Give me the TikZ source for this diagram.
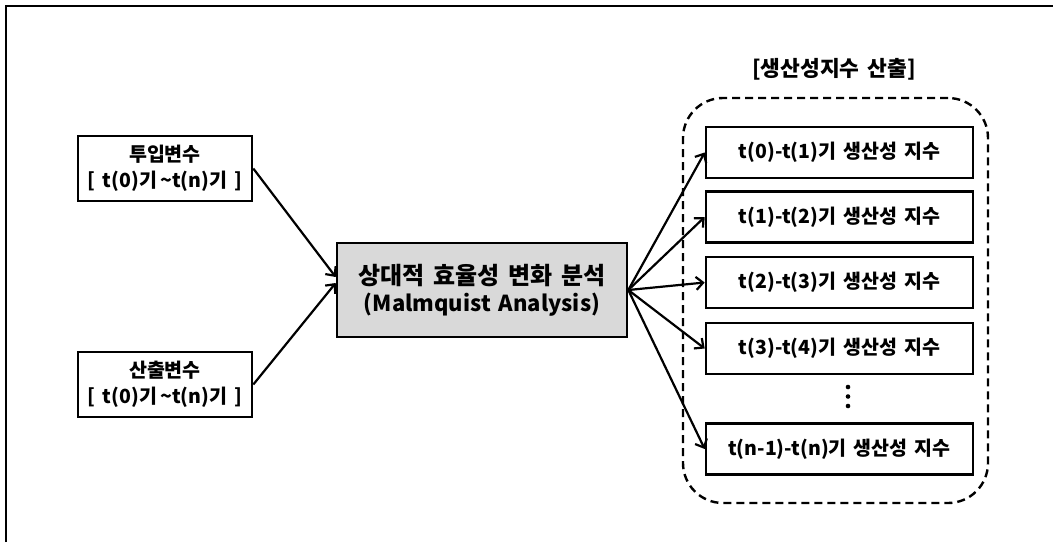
\documentclass[tikz,border=0pt]{standalone}
\usepackage{fontspec}
\setmainfont{Noto Sans CJK KR}[WordSpace=1.6]
\usetikzlibrary{arrows.meta,positioning}

\begin{document}
\begin{tikzpicture}[
    x=1pt, y=-1pt,
    varbox/.style={draw=black, line width=2.6pt, minimum width=174pt, minimum height=65pt, inner sep=0pt, align=center, font=\fontsize{19.5}{26}\selectfont\bfseries},
    mainbox/.style={draw=black, fill=black!15, line width=2.6pt, minimum width=290pt, minimum height=94pt, inner sep=0pt, align=center, font=\fontsize{22}{27}\selectfont\bfseries},
    idxbox/.style={draw=black, line width=2.6pt, minimum width=267pt, minimum height=51pt, inner sep=0pt, font=\fontsize{19.5}{22}\selectfont\bfseries},
    group/.style={draw=black, line width=2.4pt, dash pattern=on 8pt off 5pt, rounded corners=40pt, minimum width=305pt, minimum height=405pt, inner sep=0pt},
    flow/.style={line width=2.2pt, draw=black, -{Straight Barb[length=7pt, width=13pt, line width=2.2pt]}},
    grouplabel/.style={font=\fontsize{21.5}{22}\selectfont\bfseries}
]
    \useasboundingbox (0,0) rectangle (1053,542);

    % Frame
    \draw[line width=2.4pt] (6,542) -- (6,6) -- (1053,6);

    % Variables
    \node[varbox] (in) at (165,168.5) {투입변수\\{[} t(0)기\,\textasciitilde t(n)기 ]};
    \node[varbox] (out) at (165,384.5) {산출변수\\{[} t(0)기\,\textasciitilde t(n)기 ]};

    % Analysis
    \node[mainbox] (mq) at (482,290) {{\fontsize{24}{27}\selectfont 상대적 효율성 변화 분석}\\(Malmquist Analysis)};

    % Index group
    \node[group] (grp) at (835.5,300.5) {};
    \node[grouplabel] (grptitle) at (834,69) {[생산성지수 산출]};

    \foreach \nm/\a/\b/\y in {r1/0/1/152.5, r2/1/2/217, r3/2/3/282.5, r4/3/4/348.5, rn/n-1/n/449} {
        \node[idxbox] (\nm) at (839.5,\y) {t(\a)-t(\b)기 생산성 지수};
        \draw[flow] (mq.east) -- (\nm.west);
    }
    \coordinate (dots) at (848,396.5);
    \foreach \d in {-9.5,0,9.5}
        \fill ([yshift=\d pt]dots) circle (2.3);

    % Inputs
    \draw[flow] (in.east) -- ([yshift=13pt]mq.west);
    \draw[flow] (out.east) -- ([yshift=7pt]mq.west);

\end{tikzpicture}
\end{document}
